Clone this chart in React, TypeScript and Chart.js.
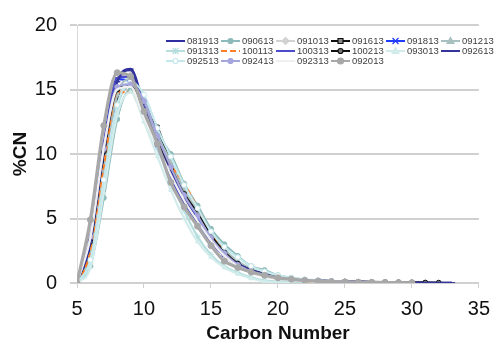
import React, { useEffect, useRef } from "react";
import { Chart, registerables } from "chart.js";

Chart.register(...registerables);

const carbonNumbers = [5, 6, 7, 8, 9, 10, 11, 12, 13, 14, 15, 16, 17, 18, 19, 20, 21, 22, 23, 24, 25, 26, 27, 28, 29, 30, 31, 32, 33];

const seriesNames = [
  "081913", "090613", "091013", "091613", "091813", "091213",
  "091313", "100113", "100313", "100213", "093013", "092613",
  "092513", "092413", "092313", "092013",
];

const s081913 = [0, 3.0, 10.0, 15.6, 16.6, 13.8, 11.0, 8.8, 6.8, 5.0, 3.5, 2.3, 1.5, 1.0, 0.7, 0.45, 0.3, 0.22, 0.18, 0.15, 0.12, 0.1, 0.08, 0.06, 0.05, 0.04, 0.03, 0.02, 0.01];
const s090613 = [0, 1.3, 6.6, 12.7, 15.0, 14.2, 11.6, 10.0, 7.7, 6.0, 4.2, 3.0, 2.1, 1.3, 1.0, 0.6, 0.4, 0.25, 0.15, 0.1, 0.08, 0.06, 0.05, 0.04, 0.03, 0.02];
const s091013 = [0, 3.8, 11.0, 15.8, 16.2, 13.0, 10.8, 8.4, 6.5, 4.8, 3.2, 2.1, 1.3, 0.8, 0.5, 0.3, 0.2, 0.15, 0.1, 0.08, 0.06, 0.04, 0.03, 0.02];
const s091613 = [0, 2.6, 9.7, 14.1, 15.3, 13.3, 12.1, 9.2, 7.0, 5.5, 3.7, 2.4, 1.5, 1.0, 0.65, 0.4, 0.28, 0.2, 0.14, 0.1, 0.08, 0.06, 0.05, 0.04, 0.03, 0.02, 0.02];
const s091813 = [0, 3.0, 10.2, 15.8, 15.6, 13.2, 10.6, 8.6, 6.6, 5.0, 3.4, 2.2, 1.4, 0.95, 0.65, 0.42, 0.3, 0.22, 0.16, 0.12, 0.09, 0.07, 0.05, 0.04, 0.03];
const s091213 = [0, 2.2, 8.8, 14.6, 15.8, 13.6, 11.4, 9.4, 7.2, 5.6, 3.8, 2.6, 1.7, 1.1, 0.75, 0.5, 0.34, 0.24, 0.17, 0.12, 0.09, 0.07, 0.05, 0.04];
const s091313 = [0, 1.6, 7.6, 13.6, 15.4, 13.1, 10.4, 8.0, 5.6, 3.6, 2.2, 1.3, 0.8, 0.45, 0.2, 0.1, 0.05, 0.03, 0.02];
const s100113 = [0, 2.4, 9.0, 14.8, 14.8, 12.7, 10.8, 9.1, 7.7, 5.8, 3.9, 2.4, 1.5, 1.0, 0.6, 0.4, 0.25, 0.15, 0.1, 0.06, 0.04];
const s100313 = [0, 3.4, 10.8, 15.9, 16.0, 13.4, 10.6, 8.2, 6.2, 4.6, 3.2, 2.1, 1.35, 0.9, 0.6, 0.4, 0.28, 0.2, 0.15, 0.12, 0.09, 0.07, 0.05, 0.04, 0.03];
const s100213 = [0, 3.2, 10.2, 15.0, 15.4, 13.0, 10.9, 8.8, 6.9, 5.4, 3.7, 2.4, 1.5, 1.0, 0.7, 0.45, 0.32, 0.24, 0.18, 0.14, 0.11, 0.09, 0.07, 0.06, 0.05, 0.04, 0.03, 0.02];
const s093013 = [0, 1.2, 7.0, 13.0, 14.8, 12.5, 9.8, 7.2, 5.0, 3.2, 2.0, 1.2, 0.7, 0.35, 0.12, 0.05, 0.02];
const s092613 = [0, 3.2, 10.4, 15.6, 16.5, 13.6, 10.8, 8.6, 6.6, 4.8, 3.4, 2.2, 1.5, 1.0, 0.7, 0.45, 0.32, 0.24, 0.18, 0.14, 0.11, 0.09, 0.07, 0.05, 0.04, 0.03, 0.02, 0.02, 0.01];
const s092513 = [0, 1.8, 8.0, 13.8, 15.6, 14.6, 12.0, 9.8, 7.6, 5.8, 4.0, 2.8, 2.0, 1.3, 0.9, 0.6, 0.4, 0.28, 0.2, 0.14, 0.1, 0.07, 0.05, 0.04, 0.03, 0.02];
const s092413 = [0, 3.6, 10.4, 15.2, 15.4, 14.1, 11.4, 9.0, 6.8, 5.2, 3.5, 2.3, 1.4, 0.9, 0.6, 0.4, 0.28, 0.2, 0.14, 0.1, 0.08, 0.06, 0.04];
const s092313 = [0, 3.5, 10.5, 15.0, 15.2, 12.8, 10.6, 8.4, 6.4, 4.8, 3.3, 2.1, 1.3, 0.85, 0.55, 0.35, 0.24, 0.16, 0.1, 0.07, 0.05];
const s092013 = [0, 4.9, 12.2, 16.3, 16.0, 13.3, 10.8, 7.8, 5.9, 4.4, 2.9, 1.7, 1.2, 0.85, 0.6, 0.4, 0.3, 0.2, 0.15, 0.1, 0.08, 0.06, 0.05, 0.04, 0.03, 0.02];

const seriesValues = [
  s081913, s090613, s091013, s091613, s091813, s091213,
  s091313, s100113, s100313, s100213, s093013, s092613,
  s092513, s092413, s092313, s092013,
];

const xTicks = [5, 10, 15, 20, 25, 30, 35];
const yTicks = [0, 5, 10, 15, 20];

type Style = { color: string; marker: string; width: number; dash?: number[]; fill?: string; r: number };
const styles: Style[] = [
  { color: "#2e2e9e", marker: "line", width: 2.2, r: 3 },
  { color: "#8dbaba", marker: "circle", width: 2.2, r: 2.5 },
  { color: "#d2d2d2", marker: "rectRot", width: 2.2, r: 2.5 },
  { color: "#111111", marker: "rect", width: 2.2, r: 2.5, fill: "#888888" },
  { color: "#1f3cff", marker: "crossRot", width: 2.2, r: 3 },
  { color: "#a9c0c0", marker: "triangle", width: 2.2, r: 2.5 },
  { color: "#b6dede", marker: "star", width: 2.2, r: 3 },
  { color: "#ff7f27", marker: "none", width: 2.2, dash: [6, 3], r: 0 },
  { color: "#4b4bcc", marker: "line", width: 2.2, r: 3 },
  { color: "#111111", marker: "circle", width: 2.2, r: 2.5, fill: "#777777" },
  { color: "#d2ecec", marker: "triangle", width: 2.2, r: 2.5 },
  { color: "#34349a", marker: "line", width: 2.2, r: 3 },
  { color: "#c4e8ec", marker: "circle", width: 2.2, r: 2.5, fill: "#ffffff" },
  { color: "#a6a6de", marker: "circle", width: 2.2, r: 2.5 },
  { color: "#f0f0f0", marker: "none", width: 2.2, r: 0 },
  { color: "#a8a8a8", marker: "circle", width: 3.2, r: 3 },
];

const FONT = "'Liberation Sans', Arial, sans-serif";

function drawMarker(ctx: CanvasRenderingContext2D, m: string, x: number, y: number, r: number, stroke: string, fill: string) {
  ctx.save();
  ctx.setLineDash([]);
  ctx.strokeStyle = stroke;
  ctx.fillStyle = fill;
  ctx.lineWidth = 1.2;
  ctx.beginPath();
  if (m === "circle") {
    ctx.arc(x, y, r, 0, Math.PI * 2);
    ctx.fill();
    ctx.stroke();
  } else if (m === "rect") {
    ctx.rect(x - r, y - r, 2 * r, 2 * r);
    ctx.fill();
    ctx.stroke();
  } else if (m === "rectRot") {
    ctx.moveTo(x, y - r - 1);
    ctx.lineTo(x + r + 1, y);
    ctx.lineTo(x, y + r + 1);
    ctx.lineTo(x - r - 1, y);
    ctx.closePath();
    ctx.fill();
    ctx.stroke();
  } else if (m === "triangle") {
    ctx.moveTo(x, y - r - 1);
    ctx.lineTo(x + r + 1, y + r);
    ctx.lineTo(x - r - 1, y + r);
    ctx.closePath();
    ctx.fill();
    ctx.stroke();
  } else if (m === "crossRot" || m === "star") {
    ctx.moveTo(x - r, y - r);
    ctx.lineTo(x + r, y + r);
    ctx.moveTo(x - r, y + r);
    ctx.lineTo(x + r, y - r);
    if (m === "star") {
      ctx.moveTo(x, y - r);
      ctx.lineTo(x, y + r);
    }
    ctx.stroke();
  } else if (m === "line") {
    ctx.lineWidth = 2;
    ctx.moveTo(x - r, y);
    ctx.lineTo(x + r, y);
    ctx.stroke();
  }
  ctx.restore();
}

const legendPlugin = {
  id: "customLegend",
  afterDraw(chart: any) {
    const ctx: CanvasRenderingContext2D = chart.ctx;
    const cols = [166, 221, 276, 331, 386, 441];
    const rows = [41, 51, 61];
    ctx.save();
    ctx.font = `9.5px ${FONT}`;
    ctx.textBaseline = "middle";
    ctx.textAlign = "left";
    seriesNames.forEach((name, i) => {
      const st = styles[i];
      const x = cols[i % 6];
      const y = rows[Math.floor(i / 6)];
      ctx.save();
      ctx.strokeStyle = st.color;
      ctx.lineWidth = 2;
      ctx.setLineDash(st.dash || []);
      ctx.beginPath();
      ctx.moveTo(x, y);
      ctx.lineTo(x + 19, y);
      ctx.stroke();
      ctx.restore();
      if (st.marker !== "none") drawMarker(ctx, st.marker, x + 9.5, y, st.r, st.color, st.fill || st.color);
      ctx.fillStyle = "#404040";
      ctx.fillText(name, x + 21, y + 0.5);
    });
    ctx.restore();
  },
};

export default function App() {
  const ref = useRef<HTMLCanvasElement | null>(null);
  useEffect(() => {
    if (!ref.current) return;
    const datasets = seriesValues.map((vals, i) => {
      const st = styles[i];
      return {
        label: seriesNames[i],
        data: vals.map((v, j) => ({ x: carbonNumbers[j], y: v })),
        borderColor: st.color,
        backgroundColor: st.fill || st.color,
        borderWidth: st.width,
        borderDash: st.dash || [],
        pointStyle: st.marker === "none" ? false : st.marker,
        pointRadius: st.r,
        pointBorderWidth: 1,
        pointBackgroundColor: st.fill || st.color,
        pointBorderColor: st.color,
        cubicInterpolationMode: "monotone" as const,
        order: seriesNames.length - i,
      };
    });
    const chart = new Chart(ref.current, {
      type: "line",
      data: { datasets },
      plugins: [legendPlugin],
      options: {
        animation: false,
        responsive: false,
        devicePixelRatio: 1,
        layout: { padding: { top: 19, right: 11, left: 0, bottom: 0 } },
        plugins: { legend: { display: false }, tooltip: { enabled: false } },
        scales: {
          x: {
            type: "linear",
            min: 5,
            max: 35,
            afterFit: (s: any) => { s.height = 58; },
            afterBuildTicks: (s: any) => { s.ticks = xTicks.map((v) => ({ value: v })); },
            grid: { drawOnChartArea: false, drawTicks: true, tickLength: 5, color: "#d0d0d0", lineWidth: 1 },
            border: { display: true, color: "#d0d0d0", width: 2 },
            ticks: { color: "#111", font: { family: FONT, size: 20 }, padding: 9, maxRotation: 0 },
            title: { display: true, text: "Carbon Number", color: "#111", font: { family: FONT, size: 19, weight: "bold", lineHeight: 1 }, padding: { top: 0, bottom: -2 } },
          },
          y: {
            type: "linear",
            min: 0,
            max: 20,
            afterFit: (s: any) => { s.width = 77; },
            afterBuildTicks: (s: any) => { s.ticks = yTicks.map((v) => ({ value: v })); },
            grid: { drawTicks: true, tickLength: 7, color: "#d0d0d0", lineWidth: 2 },
            border: { display: true, color: "#d8d8d8", width: 1 },
            ticks: { color: "#111", font: { family: FONT, size: 20 }, padding: 13 },
            title: { display: true, text: "%CN", color: "#111", font: { family: FONT, size: 19, weight: "bold", lineHeight: 1 }, padding: { top: 11, bottom: 0 } },
          },
        },
      } as any,
    });
    return () => chart.destroy();
  }, []);
  return (
    <div style={{ position: "absolute", left: 0, top: 0, width: 499, height: 341, background: "#fff" }}>
      <canvas ref={ref} width={499} height={341} />
    </div>
  );
}
